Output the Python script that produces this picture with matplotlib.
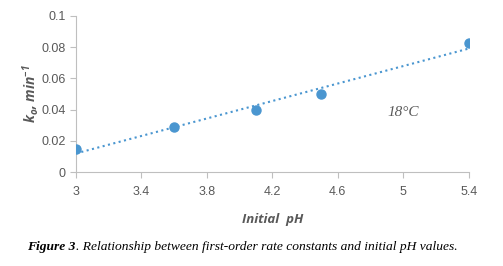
import numpy as np
import matplotlib.pyplot as plt

# data
ph = [3.0, 3.6, 4.1, 4.5, 5.4]
k0 = [0.015, 0.029, 0.0395, 0.050, 0.083]
xticks = [3, 3.4, 3.8, 4.2, 4.6, 5, 5.4]
yticks = [0, 0.02, 0.04, 0.06, 0.08, 0.1]

gray = "#595959"
blue = "#4a96d0"

plt.rcParams["mathtext.fontset"] = "custom"
plt.rcParams["mathtext.rm"] = "Open Sans:italic:bold"
plt.rcParams["mathtext.default"] = "rm"

fig = plt.figure(figsize=(5.03, 2.66), dpi=100)
ax = fig.add_axes([0.151, 0.353, 0.781, 0.587])

# linear trend line
p = np.polyfit(ph, k0, 1)
xx = np.array([ph[0], ph[-1]])
ax.plot(xx, np.polyval(p, xx), ":", color=blue, lw=1.5)
ax.plot(ph, k0, "o", color=blue, ms=6.5, zorder=3)

ax.set_xlim(3, 5.4)
ax.set_ylim(0, 0.1)
ax.set_xticks(xticks)
ax.set_xticklabels(["3", "3.4", "3.8", "4.2", "4.6", "5", "5.4"])
ax.set_yticks(yticks)
ax.set_yticklabels(["0", "0.02", "0.04", "0.06", "0.08", "0.1"])
for s in ["top", "right"]:
    ax.spines[s].set_visible(False)
for s in ["left", "bottom"]:
    ax.spines[s].set_color("#bfbfbf")
    ax.spines[s].set_linewidth(0.8)
ax.tick_params(colors="#bfbfbf", labelcolor=gray, labelsize=9, length=4, width=0.8)
for t in ax.get_xticklabels() + ax.get_yticklabels():
    t.set_family("Liberation Sans")
ax.tick_params(axis="x", pad=6)

ax.set_ylabel(r"k$_o$, min$^{-1}$", fontsize=10, color=gray, fontstyle="italic",
              fontweight="bold", family="Open Sans", labelpad=0)
ax.set_xlabel("Initial  pH", fontsize=9.5, color=gray, fontstyle="italic",
              fontweight="bold", family="Open Sans", labelpad=11)

ax.text(4.9, 0.036, "18°C", fontsize=11, color=gray, fontstyle="italic",
        family="Liberation Serif")

cap_fig = fig.text(0.054, 0.06, "Figure 3", fontsize=9.7, fontweight="bold",
                   fontstyle="italic", family="Liberation Serif", color="black")
fig.canvas.draw()
bb = cap_fig.get_window_extent()
x1 = bb.x1 / fig.bbox.width
fig.text(x1, 0.06, ". Relationship between first-order rate constants and initial pH values.",
         fontsize=9.7, fontstyle="italic", family="Liberation Serif", color="black")

fig.savefig("out.png", dpi=100)
